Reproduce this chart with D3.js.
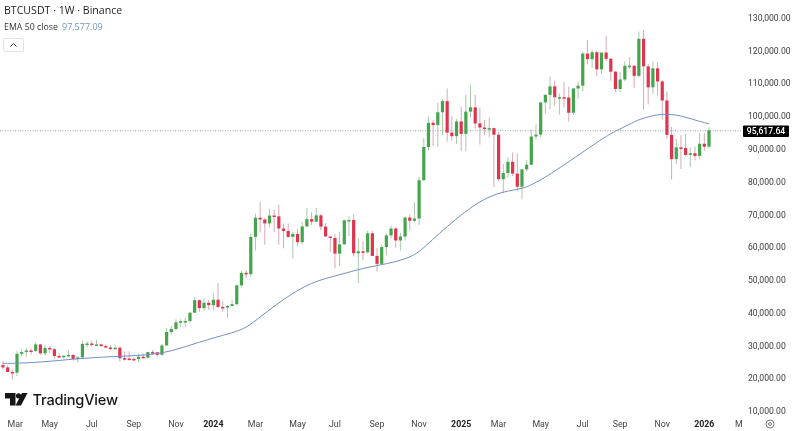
<!DOCTYPE html>
<html><head><meta charset="utf-8">
<script src="https://cdnjs.cloudflare.com/ajax/libs/d3/7.8.5/d3.min.js"></script>
<style>html,body{margin:0;padding:0;background:#fff;overflow:hidden}svg{display:block;filter:blur(0.35px)}</style>
</head><body><svg id="c" width="792" height="431"></svg>
<script>
const firstWeek = "2023-02-20";
const opens = [24000,23300,21900,21700,27450,27970,28450,28320,30300,27590,29230,28850,26780,26750,26850,27100,25900,26340,30460,30580,30160,30300,29800,29350,29050,29300,26100,26000,25870,25840,26530,26250,27970,27920,27150,29990,34080,35010,37060,37360,37450,39970,43790,41370,43000,42280,43930,41730,41580,42030,42580,48300,52130,51730,63100,68950,68400,67200,69600,69360,65660,64900,63100,64000,61480,66270,68500,67750,69650,66220,63210,62770,58000,60800,68150,68250,58100,58700,58400,64200,57300,54870,59990,63550,65650,62000,63200,69000,68000,68700,80400,90500,97900,97200,101100,104500,94900,93800,98300,94500,101300,102600,97700,96450,96100,96250,94250,80700,82580,86000,82400,78400,83700,85100,93700,94300,104100,106400,109000,105700,105700,105600,100950,108350,109200,119000,117300,119400,114200,119300,117400,113500,108200,111100,115300,115300,112200,123500,115100,108700,114500,110500,104700,94200,86800,90400,90200,88100,88600,87800,91500,90600];
const highs = [25250,23880,22600,28390,28900,29180,29100,31000,30480,30000,29800,29100,27650,26900,28450,27400,26800,31430,31280,31500,31800,30450,30300,30050,30250,29690,28150,28150,26400,27450,27480,28050,28600,28000,30400,35280,35980,38000,37980,38400,40200,44700,44000,44300,43800,45880,49000,43580,42250,43880,48590,52800,52980,64000,70200,73800,68900,71700,71300,72800,67200,67200,64700,65500,67700,71900,70600,71950,70200,67300,63300,63850,64700,68400,69400,70000,62700,61800,65000,64900,59800,60700,64130,66500,66000,64400,69400,70000,73600,81500,93250,99800,98700,104000,105200,108350,99900,99000,102700,106400,109600,106450,102500,98800,99500,96500,95000,85300,87450,88800,88500,83600,86500,95800,97400,104300,106600,112000,110700,106800,110400,108900,108500,110500,119500,123200,120250,119800,119300,124500,117600,113500,113400,116700,117900,115400,125700,126200,115900,116400,116400,110900,107500,96600,93000,94150,94600,90400,90600,94800,94800,96500];
const lows = [22750,21970,19550,20600,26600,26500,27200,28000,27100,26970,27650,25800,26100,25850,26500,25350,24800,26250,29500,29700,29950,29500,29050,28600,28700,25150,25350,25300,25350,24900,26000,25980,27150,26530,26900,29900,33400,34500,35500,35600,36850,39970,40200,40500,40900,40750,41500,40300,38500,41880,42200,47700,50500,50900,59000,64500,60700,66000,64500,60700,59600,62800,56500,60200,60700,66100,66700,67600,65050,63400,58400,53500,54250,62400,63400,57100,49000,56100,58000,57200,52550,54600,57500,62700,59800,58900,62000,65000,67500,66800,80200,89400,90800,90500,94150,92100,92500,91500,89250,89200,99500,96150,91200,94100,93400,78250,80000,76550,81100,81600,77000,74500,83100,85000,92800,93350,100700,102000,103100,100400,102600,98200,100300,105100,107500,115700,114700,112000,112700,116800,110700,107300,107300,110600,114400,108600,111600,102000,103500,106700,106300,98900,93000,80600,85300,83800,87600,84400,86400,86800,89300,90000];
const closes = [23300,21900,21700,27450,27970,28450,28320,30300,27590,29230,28850,26780,26750,26850,27100,25900,26340,30460,30580,30160,30300,29800,29350,29050,29300,26100,26000,25870,25840,26530,26250,27970,27920,27150,29990,34080,35010,37060,37360,37450,39970,43790,41370,43000,42280,43930,41730,41580,42030,42580,48300,52130,51730,63100,68950,68400,67200,69600,69360,65660,64900,63100,64000,61480,66270,68500,67750,69650,66220,63210,62770,58000,60800,68150,68250,58100,58700,58400,64200,57300,54870,59990,63550,65650,62000,63200,69000,68000,68700,80400,90500,97900,97200,101100,104500,94900,93800,98300,94500,101300,102600,97700,96450,96100,96250,94250,80700,82580,86000,82400,78400,83700,85100,93700,94300,104100,106400,109000,105700,105700,105600,100950,108350,109200,119000,117300,119400,114200,119300,117400,113500,108200,111100,115300,115300,112200,123500,115100,108700,114500,110500,104700,94200,86800,90400,90200,88100,88600,87800,91500,90600,95617.64];
const emaWeekIndex = [0,3,10,15,25,34,42,49,52,55,60,66,72,77,82,88,91,99,105,111,113,117,128,131,134,136,141,145,148,151];
const emaValues = [24550,24490,25100,25860,26780,27080,31140,33790,35300,38670,44160,49440,51480,53600,54830,56970,61240,71300,76490,77710,78930,81980,92960,95400,97400,99000,100890,100100,98700,97577.09];
const priceTicks = [10000,20000,30000,40000,50000,60000,70000,80000,90000,100000,110000,120000,130000];
const timeTickWeeks = [2,10,19,28,37,45,54,63,71,80,89,98,106,115,124,132,141,150,158];
const timeTickLabels = ["Mar","May","Jul","Sep","Nov","2024","Mar","May","Jul","Sep","Nov","2025","Mar","May","Jul","Sep","Nov","2026","M"];
const boldLabels = ["2024","2025","2026"];
const lastPrice = 95617.64;

const svg = d3.select("#c");
const x = d3.scaleLinear().domain([0,151]).range([2.97,709]);
const y = d3.scaleLinear().domain([10000,130000]).range([411,17.5]);
const UP="#45a54c", DOWN="#e0334f", UPW="#a9c9ab", DOWNW="#d8a9b2";
const sans="'Open Sans','Noto Sans',sans-serif";
const axisFont="Roboto,'Open Sans',sans-serif";

svg.append("line").attr("x1",0).attr("x2",742).attr("y1",y(lastPrice)+.5).attr("y2",y(lastPrice)+.5)
  .attr("stroke","#8a8a8a").attr("stroke-width",.8).attr("stroke-dasharray","1 1.5");

const candles = svg.append("g").selectAll("g").data(closes).join("g");
candles.append("line")
  .attr("x1",(d,i)=>x(i)).attr("x2",(d,i)=>x(i))
  .attr("y1",(d,i)=>y(highs[i])).attr("y2",(d,i)=>y(lows[i]))
  .attr("stroke",(d,i)=>d>=opens[i]?UPW:DOWNW).attr("stroke-width",1);
candles.append("rect")
  .attr("x",(d,i)=>x(i)-1.6).attr("width",3.2)
  .attr("y",(d,i)=>y(Math.max(d,opens[i])))
  .attr("height",(d,i)=>Math.max(1.5,Math.abs(y(d)-y(opens[i]))))
  .attr("fill",(d,i)=>d>=opens[i]?UP:DOWN);

const line = d3.line().x((d,i)=>x(emaWeekIndex[i])).y(d=>y(d)).curve(d3.curveBasis);
svg.append("path").attr("d",line(emaValues)).attr("fill","none").attr("stroke","#6f8fc2").attr("stroke-width",1);

const yAxis = d3.axisRight(y).tickValues(priceTicks).tickSize(0).tickPadding(0).tickFormat(d3.format(",.2f"));
const ga = svg.append("g").attr("transform","translate(748,0)").call(yAxis);
ga.select(".domain").remove();
ga.selectAll("text").attr("font-family",axisFont).attr("font-size",8.6).attr("fill","#3d3d3d");

svg.append("rect").attr("x",743).attr("y",y(lastPrice)-4.8).attr("width",46).attr("height",11.5).attr("rx",1).attr("fill","#000");
svg.append("text").attr("x",766).attr("y",y(lastPrice)+4).attr("text-anchor","middle").attr("font-family",axisFont)
  .attr("font-size",8.6).attr("font-weight",500).attr("fill","#fff").text(d3.format(",.2f")(lastPrice));

const ticks = svg.append("g");
timeTickLabels.forEach((t,i)=>{
  const px = i===0 ? x(timeTickWeeks[i])+3 : i===timeTickLabels.length-1 ? x(timeTickWeeks[i])-3 : x(timeTickWeeks[i]);
  ticks.append("text").attr("x",px).attr("y",427).attr("text-anchor","middle").attr("font-family",axisFont)
   .attr("font-size",8.8).attr("fill",boldLabels.includes(t)?"#222":"#444").attr("font-weight",boldLabels.includes(t)?700:400).text(t);
});

svg.append("circle").attr("cx",770).attr("cy",424).attr("r",4).attr("fill","none").attr("stroke","#555").attr("stroke-width",.8);
svg.append("circle").attr("cx",770).attr("cy",424).attr("r",1.5).attr("fill","none").attr("stroke","#555").attr("stroke-width",.8);

svg.append("text").attr("x",4).attr("y",14).attr("font-family",sans).attr("font-size",10.6).attr("font-weight",500).attr("fill","#1e1e1e").text("BTCUSDT · 1W · Binance");
svg.append("text").attr("x",4).attr("y",30).attr("font-family",sans).attr("font-size",8.8).attr("fill","#333").text("EMA 50 close");
svg.append("text").attr("x",62).attr("y",30).attr("font-family",sans).attr("font-size",9).attr("fill","#6d94cc").text("97,577.09");
svg.append("rect").attr("x",3.5).attr("y",38.5).attr("width",20).attr("height",13).attr("rx",1.5).attr("fill","#fff").attr("stroke","#e2e2e2");
svg.append("path").attr("d","M10.5 46.5L13.5 43.5L16.5 46.5").attr("fill","none").attr("stroke","#333").attr("stroke-width",1);

const logo = svg.append("g").attr("transform","translate(5,393)").attr("fill","#161616");
logo.append("path").attr("d","M0 0H10.5V12.5H5V5.5H0Z");
logo.append("circle").attr("cx",13.5).attr("cy",2.8).attr("r",2.6);
logo.append("path").attr("d","M17 0H22.5L16 12.5H10.5Z");
svg.append("text").attr("x",32.5).attr("y",405).attr("font-family","Inter,Roboto,sans-serif").attr("font-size",14.6).attr("font-weight",500).attr("letter-spacing","-.2").attr("fill","#161616").text("TradingView");
</script></body></html>
